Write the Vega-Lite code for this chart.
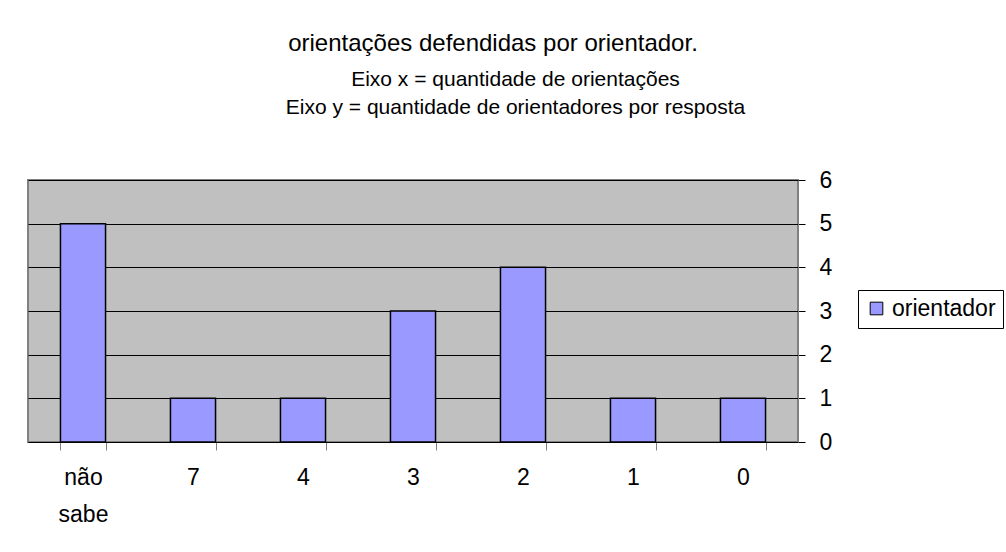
{
  "$schema": "https://vega.github.io/schema/vega-lite/v6.json",
  "autosize": {"type": "none"},
  "width": 770,
  "height": 262,
  "padding": {"left": 28, "top": 180, "right": 208, "bottom": 110},
  "background": "white",
  "title": {
    "text": "orientações defendidas por orientador.",
    "subtitle": ["\u2800\u2800\u2800Eixo x = quantidade de orientações", "\u2800\u2800\u2800Eixo y = quantidade de orientadores por resposta"],
    "anchor": "middle",
    "dx": 80,
    "offset": 51,
    "font": "Liberation Sans",
    "fontSize": 24,
    "fontWeight": "normal",
    "color": "black",
    "subtitleFont": "Liberation Sans",
    "subtitleFontSize": 21,
    "subtitleColor": "black",
    "subtitleLineHeight": 28,
    "subtitlePadding": 13
  },
  "data": {
    "values": [
      {"resposta": "não sabe", "orientadores": 5, "serie": "orientador"},
      {"resposta": "7", "orientadores": 1, "serie": "orientador"},
      {"resposta": "4", "orientadores": 1, "serie": "orientador"},
      {"resposta": "3", "orientadores": 3, "serie": "orientador"},
      {"resposta": "2", "orientadores": 4, "serie": "orientador"},
      {"resposta": "1", "orientadores": 1, "serie": "orientador"},
      {"resposta": "0", "orientadores": 1, "serie": "orientador"}
    ]
  },
  "mark": {"type": "bar", "stroke": "black", "strokeWidth": 1.5},
  "encoding": {
    "x": {
      "field": "resposta",
      "type": "nominal",
      "sort": null,
      "scale": {"paddingInner": 0.59, "paddingOuter": 0.295},
      "axis": {
        "title": null,
        "labelAngle": 0,
        "tickBand": "extent",
        "tickColor": "#808080",
        "tickSize": 8,
        "domainColor": "black",
        "labelFont": "Liberation Sans",
        "labelFontSize": 23,
        "labelColor": "black",
        "labelPadding": 16,
        "labelLineHeight": 37,
        "labelBaseline": "top",
        "labelExpr": "datum.value == 'não sabe' ? ['não', 'sabe'] : datum.value"
      }
    },
    "y": {
      "field": "orientadores",
      "type": "quantitative",
      "scale": {"domain": [0, 6], "nice": false},
      "axis": {
        "orient": "right",
        "title": null,
        "values": [0, 1, 2, 3, 4, 5, 6],
        "grid": true,
        "gridColor": "black",
        "gridOpacity": 1,
        "gridWidth": 1,
        "domainColor": "#808080",
        "tickColor": "black",
        "tickSize": 7,
        "labelFont": "Liberation Sans",
        "labelFontSize": 23,
        "labelColor": "black",
        "labelPadding": 14
      }
    },
    "color": {
      "field": "serie",
      "type": "nominal",
      "scale": {"range": ["#9999FF"]},
      "legend": {
        "title": null,
        "orient": "none",
        "legendX": 830,
        "legendY": 110,
        "strokeColor": "black",
        "fillColor": "white",
        "padding": 7,
        "symbolType": "square",
        "symbolSize": 160,
        "symbolStrokeColor": "black",
        "symbolStrokeWidth": 1,
        "labelFont": "Liberation Sans",
        "labelFontSize": 23,
        "labelColor": "black",
        "labelLimit": 300
      }
    }
  },
  "config": {
    "view": {"fill": "#C0C0C0", "stroke": "#808080", "strokeWidth": 2}
  }
}
